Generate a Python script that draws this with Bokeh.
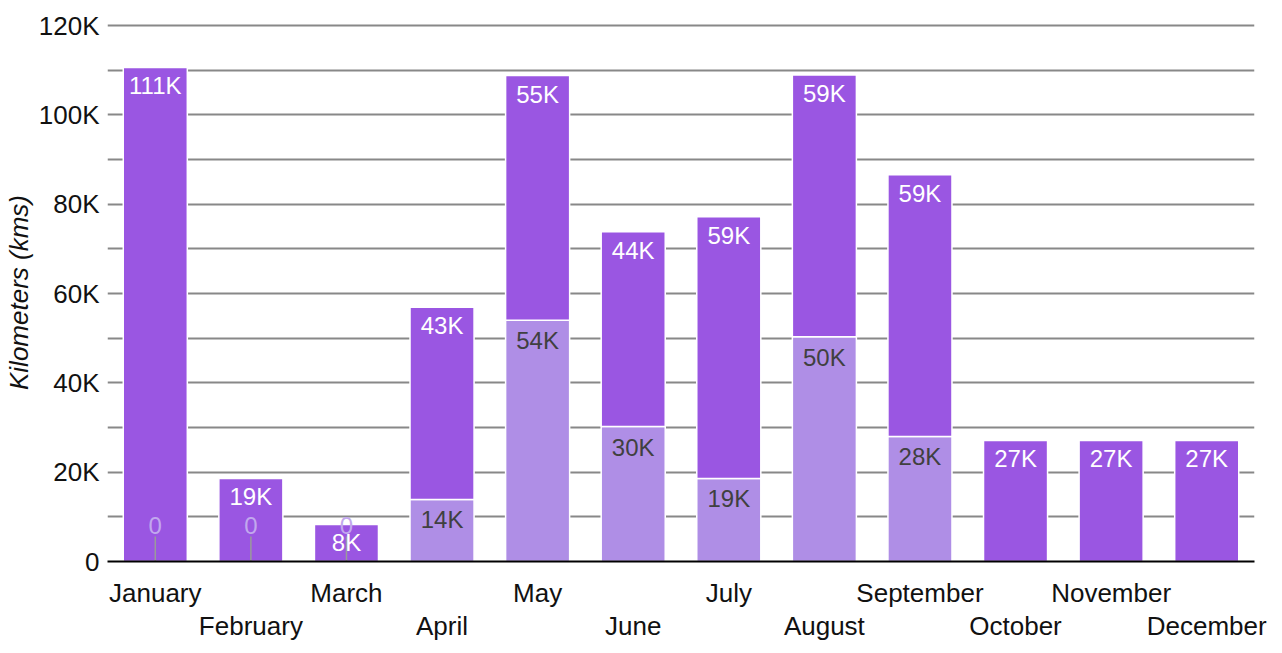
import math
from bokeh.plotting import figure
from bokeh.models import Range1d, FixedTicker, LinearAxis, ColumnDataSource
from bokeh.embed import file_html
from bokeh.resources import INLINE
from bokeh.core.properties import value

# ---- data (thousands of km) ----
months = ["January", "February", "March", "April", "May", "June", "July",
          "August", "September", "October", "November", "December"]
lower = [0, 0, 0, 13.9, 54.0, 30.2, 18.6, 50.3, 28.0, None, None, None]
upper = [110.6, 18.6, 8.3, 43.0, 54.8, 43.6, 58.6, 58.6, 58.6, 27.1, 27.1, 27.1]
y_ticks = [0, 20, 40, 60, 80, 100, 120]
y_tick_labels = ["0", "20K", "40K", "60K", "80K", "100K", "120K"]
grid_ticks = [0, 10, 20, 30, 40, 50, 60, 70, 80, 90, 100, 110, 120]

DARK = "#9a56e2"
LIGHT = "#af8ee6"
FONT = "Liberation Sans"
AX_FS = "26px"
LBL_FS = "24px"

idx = list(range(len(months)))
low0 = [v if v is not None else 0 for v in lower]
low_nan = [v if v is not None else float("nan") for v in lower]
tops = [a + b for a, b in zip(low0, upper)]

p = figure(frame_width=1147, frame_height=538, output_backend="svg",
           toolbar_location=None, x_range=Range1d(-0.5, 11.5),
           y_range=Range1d(0, 120.45), x_axis_location=None)
p.min_border_left = 100
p.min_border_top = 23
p.min_border_right = 19
p.min_border_bottom = 0
p.outline_line_color = None
p.background_fill_color = "white"

# grid
p.xgrid.visible = False
p.ygrid.ticker = FixedTicker(ticks=grid_ticks)
p.ygrid.grid_line_color = "#888888"
p.ygrid.grid_line_width = 2

# y axis
ya = p.yaxis[0]
ya.ticker = FixedTicker(ticks=y_ticks)
ya.major_label_overrides = {t: l for t, l in zip(y_ticks, y_tick_labels)}
ya.axis_line_color = None
ya.major_tick_line_color = None
ya.minor_tick_line_color = None
ya.major_tick_out = 0
ya.major_tick_in = 0
ya.minor_tick_out = 0
ya.minor_tick_in = 0
ya.major_label_standoff = 8
ya.major_label_text_font = FONT
ya.major_label_text_font_size = AX_FS
ya.major_label_text_color = "#111111"
ya.axis_label = "Kilometers (kms)"
ya.axis_label_text_font = FONT
ya.axis_label_text_font_size = AX_FS
ya.axis_label_text_font_style = "italic"
ya.axis_label_text_color = "#111111"
ya.axis_label_standoff = 2

# x axes (staggered labels)
xa1 = LinearAxis(ticker=FixedTicker(ticks=idx),
                 major_label_overrides={i: (m if i % 2 == 0 else "") for i, m in zip(idx, months)})
xa2 = LinearAxis(ticker=FixedTicker(ticks=idx),
                 major_label_overrides={i: (m if i % 2 == 1 else "") for i, m in zip(idx, months)})
for ax in (xa1, xa2):
    ax.major_tick_line_color = None
    ax.minor_tick_line_color = None
    ax.major_tick_out = 0
    ax.major_tick_in = 0
    ax.minor_tick_out = 0
    ax.minor_tick_in = 0
    ax.major_label_text_font = FONT
    ax.major_label_text_font_size = AX_FS
    ax.major_label_text_color = "#111111"
xa1.axis_line_color = "black"
xa1.axis_line_width = 2
xa1.major_label_standoff = 16
xa2.axis_line_color = None
xa2.major_label_standoff = 0
p.add_layout(xa1, "below")
p.add_layout(xa2, "below")

# bars
src = ColumnDataSource(dict(x=idx, low=low_nan, low0=low0, top=tops,
                            up_lbl=[f"{round(v)}K" for v in upper],
                            low_lbl=[("" if v is None or v == 0 else f"{round(v)}K") for v in lower]))
p.vbar(x="x", bottom=0, top="low", width=0.67, source=src,
       fill_color=LIGHT, line_color="white", line_width=1.5)
p.vbar(x="x", bottom="low0", top="top", width=0.67, source=src,
       fill_color=DARK, line_color="white", line_width=1.5)

# zero annotations with stems
zx = [i for i, v in zip(idx, lower) if v == 0]
zsrc = ColumnDataSource(dict(x=zx, y=[0] * len(zx), t=["0"] * len(zx)))
p.ray(x="x", y="y", length=25, length_units="screen", angle=math.pi / 2,
      source=zsrc, line_color="#9a9a9a", line_width=1.5)
p.text(x="x", y="y", text="t", source=zsrc, text_align="center",
       text_baseline="bottom", y_offset=-28, text_color="#c2a8ee",
       text_font=value(FONT), text_font_size=LBL_FS)

# value labels
p.text(x="x", y="top", text="up_lbl", source=src, text_align="center",
       text_baseline="top", y_offset=5, text_color="white",
       text_font=value(FONT), text_font_size=LBL_FS)
p.text(x="x", y="low0", text="low_lbl", source=src, text_align="center",
       text_baseline="top", y_offset=7, text_color="#404040",
       text_font=value(FONT), text_font_size=LBL_FS)

open("out.html", "w").write(file_html(p, INLINE))
